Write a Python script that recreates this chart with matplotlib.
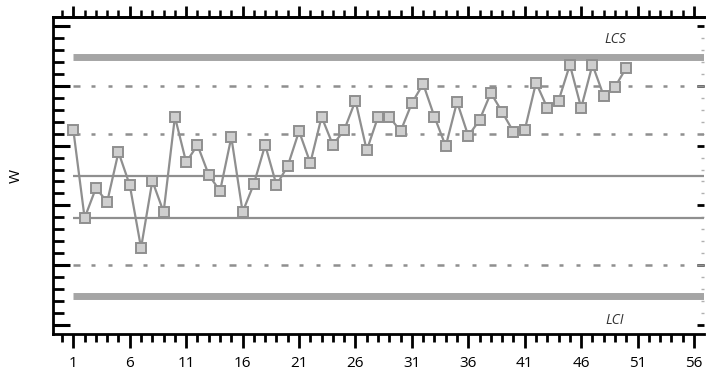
import matplotlib
matplotlib.use("Agg")
import matplotlib.pyplot as plt
from matplotlib.ticker import MultipleLocator

plt.rcParams['font.family'] = ['Open Sans', 'DejaVu Sans']

samples = list(range(1, 51))
w_values = [16.3, 8.95, 11.45, 10.3, 14.45, 11.7, 6.45, 12.05, 9.45, 17.4,
            13.6, 15.05, 12.55, 11.2, 15.7, 9.45, 11.8, 15.05, 11.7, 13.3,
            16.2, 13.55, 17.4, 15.05, 16.3, 18.75, 14.6, 17.4, 17.4, 16.2,
            18.55, 20.15, 17.4, 14.95, 18.65, 15.8, 17.15, 19.4, 17.8, 16.15,
            16.3, 20.25, 18.15, 18.75, 21.75, 18.15, 21.75, 19.15, 19.9, 21.5]

# Control limits
lcs = 22.4
lci = 2.4
upper_warn = 20.0
lower_warn = 5.0
upper_inner = 15.95
center = 12.45
lower_inner = 8.95

x_ticks = list(range(1, 57, 5))
GRAY = "#8f8f8f"

fig = plt.figure(figsize=(7.07, 3.75), dpi=100)
ax = fig.add_axes([0.075, 0.109, 0.921, 0.846])

x_lo, x_hi = -0.8, 56.9
ax.set_xlim(x_lo, x_hi)
ax.set_ylim(-0.75, 25.75)

# limit lines
ax.hlines([lcs, lci], 1, x_hi, colors="#a5a5a5", linewidth=5.0, zorder=1)
dash = (0, (2.8, 4.4, 1.6, 5.2, 1.6, 5.2))   # long - short - short (in units of lw)
ax.hlines([upper_warn, lower_warn, upper_inner], 1, x_hi, colors=GRAY,
          linewidth=1.8, linestyles=[dash], zorder=1)
ax.hlines([center, lower_inner], 1, x_hi, colors=GRAY, linewidth=1.6, zorder=1)

# the series
ax.plot(samples, w_values, color=GRAY, linewidth=1.6, marker="s",
        markersize=7, markerfacecolor="#cfcfcf", markeredgecolor=GRAY,
        markeredgewidth=1.4, zorder=3)

ax.text(49.0, 23.2, "LCS", fontsize=10, style="italic", ha="center", va="bottom",
        color="#333333")
ax.text(49.0, 0.35, "LCI", fontsize=10, style="italic", ha="center", va="center",
        color="#333333")

ax.set_ylabel("W", fontsize=11, labelpad=18)

# axes frame and ticks
for side in ("left", "bottom", "top"):
    ax.spines[side].set_linewidth(2)
ax.spines["right"].set_visible(False)

ax.set_xticks(x_ticks)
ax.xaxis.set_minor_locator(MultipleLocator(1))
ax.yaxis.set_major_locator(MultipleLocator(5))
ax.yaxis.set_minor_locator(MultipleLocator(1))

ax.tick_params(axis="x", which="major", direction="out", length=10, width=2,
               labelsize=11, pad=6)
ax.tick_params(axis="x", which="minor", direction="out", length=6, width=2)
ax.tick_params(axis="y", which="major", direction="in", length=12, width=2.2,
               labelleft=False)
ax.tick_params(axis="y", which="minor", direction="in", length=8, width=2)

# top ticks: outward, a bit shorter
top = ax.secondary_xaxis("top")
top.spines["top"].set_linewidth(2)
top.set_xticks(x_ticks)
top.xaxis.set_minor_locator(MultipleLocator(1))
top.tick_params(which="major", direction="out", length=8, width=2, labeltop=False)
top.tick_params(which="minor", direction="out", length=5, width=1.8)

# right ticks: short and faint
right = ax.secondary_yaxis("right")
right.spines["right"].set_visible(False)
right.yaxis.set_major_locator(MultipleLocator(5))
right.yaxis.set_minor_locator(MultipleLocator(1))
right.tick_params(which="major", direction="in", length=5, width=2, labelright=False)
right.tick_params(which="minor", direction="in", length=2, width=1, colors="#b0b0b0")

fig.savefig("out.png", dpi=100)
